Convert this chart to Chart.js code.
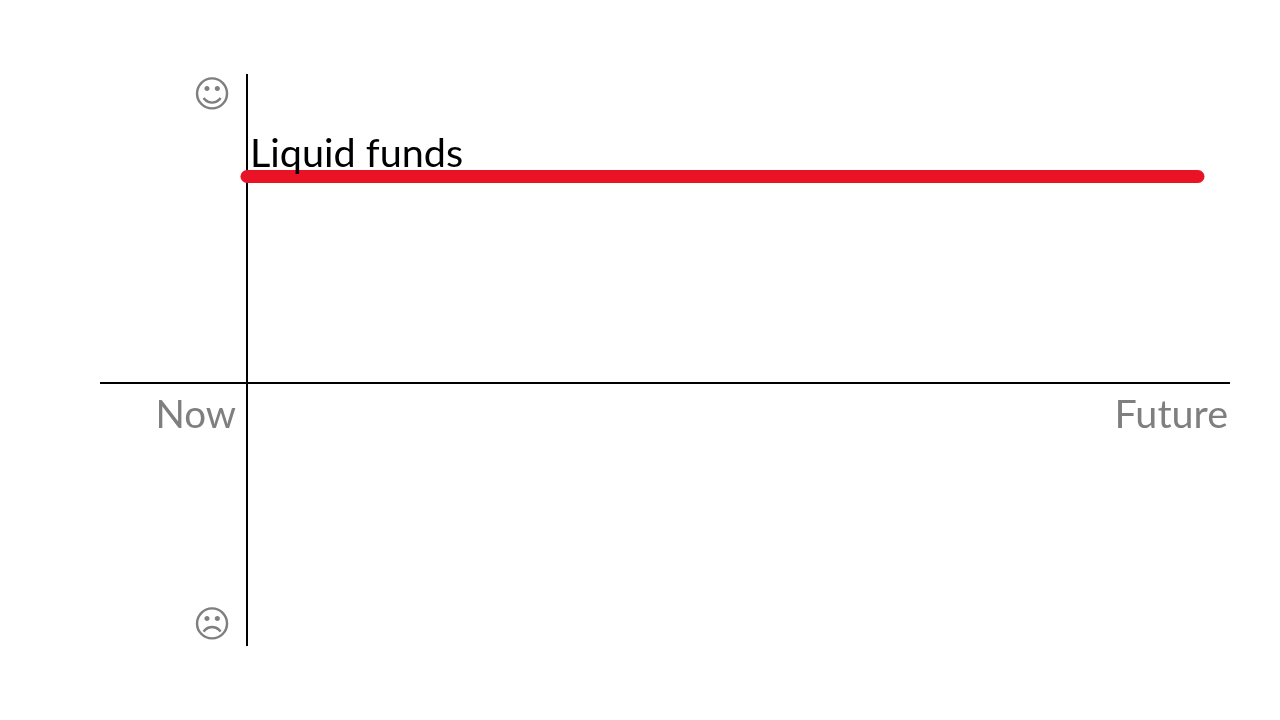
<!DOCTYPE html>
<html>
<head>
<meta charset="utf-8">
<style>html,body{margin:0;padding:0;background:#fff}canvas{display:block}</style>
<script src="https://cdn.jsdelivr.net/npm/chart.js@4"></script>
</head>
<body>
<canvas id="c" width="1280" height="720"></canvas>
<script>
const timeValues = [0, 100];
const fundValues = [0.712, 0.712];
const seriesName = 'Liquid funds';
const timeLabels = ['Now', 'Future'];
const moodLabels = ['\u263A', '\u2639'];
const moodValues = [1, -0.83];

const labelsPlugin = {
  id: 'labelsPlugin',
  afterDatasetsDraw(chart) {
    const {ctx, scales: {x, y}} = chart;
    ctx.save();
    ctx.textBaseline = 'alphabetic';
    ctx.fillStyle = '#000000';
    ctx.textAlign = 'left';
    ctx.font = '39.6px Lato';
    ctx.fillText(seriesName, x.getPixelForValue(0) + 3, y.getPixelForValue(fundValues[0]) - 10);
    ctx.fillStyle = '#7f7f7f';
    ctx.textAlign = 'right';
    ctx.font = '38.5px Lato';
    ctx.fillText(timeLabels[0], x.getPixelForValue(0) - 11, y.getPixelForValue(0) + 45);
    ctx.font = '39.5px Lato';
    ctx.fillText(timeLabels[1], x.right - 1, y.getPixelForValue(0) + 45);
    ctx.textAlign = 'center';
    ctx.textBaseline = 'middle';
    ctx.font = '37px "DejaVu Sans"';
    moodLabels.forEach((m, i) => {
      ctx.fillText(m, x.getPixelForValue(0) - 35, y.getPixelForValue(moodValues[i]) + 4);
    });
    ctx.restore();
  }
};

new Chart(document.getElementById('c'), {
  type: 'line',
  data: {
    labels: timeValues,
    datasets: [{
      label: seriesName,
      data: timeValues.map((t, i) => ({x: t, y: fundValues[i]})),
      borderColor: '#E91325',
      borderWidth: 13,
      borderCapStyle: 'round',
      pointRadius: 0,
      tension: 0,
      clip: false
    }]
  },
  options: {
    responsive: false,
    animation: false,
    devicePixelRatio: 1,
    layout: {padding: {left: 101, right: 51, top: 75, bottom: 75}},
    plugins: {legend: {display: false}, tooltip: {enabled: false}, title: {display: false}},
    scales: {
      x: {
        type: 'linear', min: -15.35, max: 103.26,
        position: {y: 0},
        grid: {display: false, drawTicks: false},
        border: {display: true, color: '#000000', width: 2},
        ticks: {display: false}
      },
      y: {
        type: 'linear', min: -0.903, max: 1.062,
        position: {x: 0},
        grid: {display: false, drawTicks: false},
        border: {display: true, color: '#000000', width: 2},
        ticks: {display: false}
      }
    }
  },
  plugins: [labelsPlugin]
});
</script>
</body>
</html>
